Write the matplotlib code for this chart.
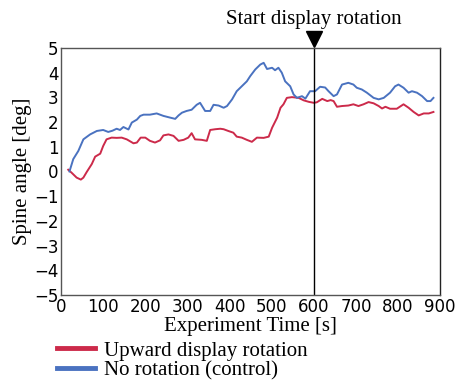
import matplotlib
matplotlib.use("Agg")
import matplotlib.pyplot as plt
import matplotlib.transforms as mtransforms

# Data
t_blue = [20, 29, 41, 53, 69, 85, 100, 112, 122, 132, 140, 148, 160, 168, 180, 188, 196, 211, 227, 243,
          259, 271, 279, 287, 298, 310, 322, 330, 342, 354, 362, 374, 386, 394, 406, 417, 429, 441, 449,
          461, 473, 481, 489, 501, 508, 516, 524, 532, 544, 552, 560, 572, 580, 591, 603, 615, 627, 635,
          647, 655, 667, 682, 694, 702, 714, 726, 742, 754, 766, 781, 793, 801, 813, 825, 833, 845, 857,
          869, 877, 884]
y_blue = [0.0, 0.5, 0.83, 1.3, 1.5, 1.64, 1.68, 1.6, 1.65, 1.73, 1.68, 1.8, 1.7, 1.98, 2.1, 2.25, 2.3, 2.3,
          2.35, 2.25, 2.18, 2.13, 2.27, 2.38, 2.45, 2.5, 2.7, 2.78, 2.45, 2.45, 2.7, 2.67, 2.58, 2.65, 2.92,
          3.25, 3.45, 3.65, 3.86, 4.13, 4.33, 4.4, 4.15, 4.2, 4.1, 4.2, 4.0, 3.65, 3.45, 3.12, 2.98, 3.05,
          2.95, 3.25, 3.25, 3.43, 3.4, 3.25, 3.05, 3.12, 3.52, 3.59, 3.52, 3.39, 3.32, 3.19, 2.98, 2.92,
          2.98, 3.19, 3.45, 3.52, 3.39, 3.19, 3.25, 3.19, 3.05, 2.85, 2.85, 2.98]

t_red = [17, 25, 37, 47, 53, 61, 73, 81, 93, 100, 108, 120, 132, 144, 156, 172, 180, 189, 200, 211, 223,
         235, 243, 255, 267, 279, 291, 302, 310, 318, 334, 346, 354, 366, 378, 386, 397, 409, 417, 429,
         441, 453, 465, 481, 493, 501, 513, 521, 528, 536, 548, 564, 576, 588, 600, 607, 620, 632, 640,
         647, 655, 667, 682, 694, 706, 718, 730, 742, 754, 762, 770, 781, 797, 813, 825, 837, 849, 861,
         873, 884]
y_red = [0.07, -0.05, -0.25, -0.33, -0.25, -0.02, 0.3, 0.6, 0.72, 1.03, 1.3, 1.37, 1.36, 1.37, 1.3, 1.14,
         1.17, 1.37, 1.37, 1.24, 1.17, 1.26, 1.46, 1.5, 1.44, 1.24, 1.28, 1.37, 1.55, 1.3, 1.28, 1.24,
         1.68, 1.71, 1.73, 1.71, 1.64, 1.57, 1.41, 1.37, 1.28, 1.2, 1.37, 1.36, 1.41, 1.77, 2.18, 2.58,
         2.72, 2.98, 3.01, 2.98, 2.88, 2.82, 2.78, 2.8, 2.94, 2.85, 2.89, 2.85, 2.62, 2.65, 2.67, 2.72,
         2.65, 2.72, 2.81, 2.76, 2.65, 2.55, 2.62, 2.54, 2.54, 2.72, 2.58, 2.41, 2.27, 2.35, 2.35, 2.41]

rotation_start = 600
series_labels = ["Upward display rotation", "No rotation (control)"]
annot_text = "Start display rotation"
x_ticks = [0, 100, 200, 300, 400, 500, 600, 700, 800, 900]
y_ticks = [-5, -4, -3, -2, -1, 0, 1, 2, 3, 4, 5]

red = "#cc2a4a"
blue = "#4a72c0"
serif = ["Liberation Serif", "DejaVu Serif"]
fs = 15

fig = plt.figure(figsize=(4.59, 3.81), dpi=100)
ax = fig.add_axes([0.133, 0.226, 0.826, 0.648])

l1, = ax.plot(t_red, y_red, color=red, lw=1.4, label=series_labels[0])
l2, = ax.plot(t_blue, y_blue, color=blue, lw=1.4, label=series_labels[1])
ax.axvline(rotation_start, color="black", lw=1.0)

# triangle marker above the axes, tip touching top spine
off = mtransforms.offset_copy(ax.transData, fig=fig, x=0, y=6.5, units="points")
ax.plot([rotation_start], [5], marker="v", color="black", markersize=12, transform=off, clip_on=False)
ax.text(rotation_start, 1.0, annot_text, ha="center", va="bottom", fontsize=fs, family=serif,
        transform=mtransforms.offset_copy(ax.get_xaxis_transform(), fig=fig, x=0, y=13.5, units="points"))

ax.set_xlim(0, 900)
ax.set_ylim(-5, 5)
ax.set_xticks(x_ticks)
ax.set_yticks(y_ticks)
ax.tick_params(length=0, labelsize=12, pad=2)
for s in ax.spines.values():
    s.set_color("#555555")
    s.set_linewidth(1.0)
ax.spines["right"].set_color("#222222")

ax.set_xlabel("Experiment Time [s]", fontsize=fs, family=serif, labelpad=1)
ax.set_ylabel("Spine angle [deg]", fontsize=fs, family=serif, labelpad=1)

leg = fig.legend(handles=[l1, l2], loc="upper left", bbox_to_anchor=(0.124, 0.105), frameon=False,
                 prop={"family": serif, "size": fs}, handlelength=1.85, handletextpad=0.4,
                 labelspacing=0.02, borderaxespad=0, borderpad=0)
for h in leg.get_lines():
    h.set_linewidth(3.5)

fig.savefig("out.png", dpi=100)
